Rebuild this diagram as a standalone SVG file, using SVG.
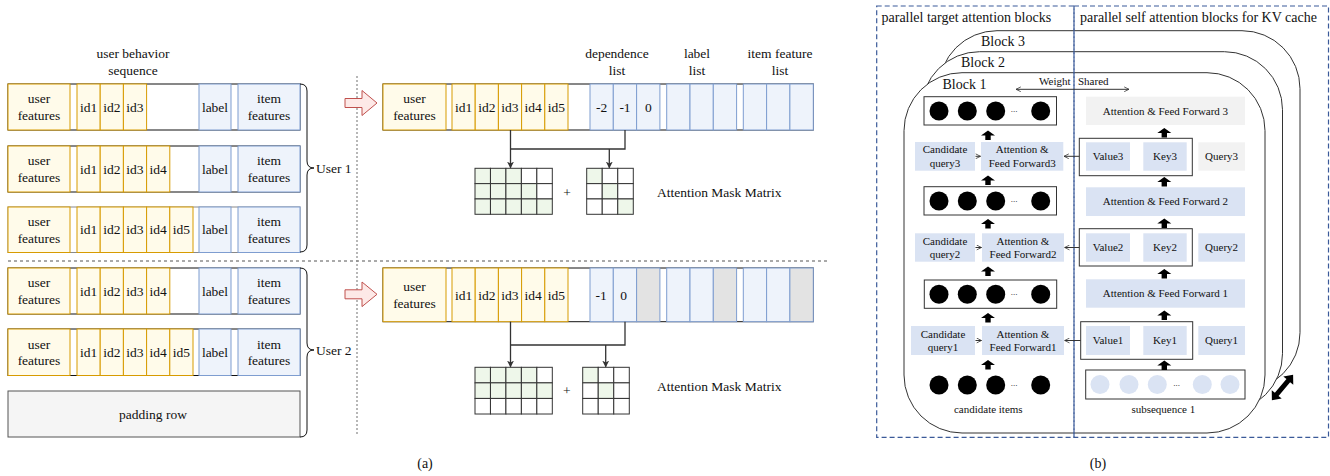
<svg xmlns="http://www.w3.org/2000/svg" xmlns:xlink="http://www.w3.org/1999/xlink" width="1330" height="476" viewBox="0 0 1330 476">
<style>
text{font-family:"Liberation Serif","Times New Roman",serif;font-size:13.5px;fill:#111;text-anchor:middle}
.s{font-size:11px}
.l{font-size:14px}
.st{text-anchor:start}
.en{text-anchor:end}
.dots{font-size:9px}
.row{fill:#fff;stroke:#111;stroke-width:1}
.row3{fill:#fff;stroke:#888;stroke-width:1}
.y{fill:#fffbea;stroke:#d79b00;stroke-width:1}
.b{fill:#eef3fb;stroke:#7e9dd0;stroke-width:1}
.g{fill:#e3e3e3;stroke:#7e9dd0;stroke-width:1}
.pad{fill:#f5f5f5;stroke:#555;stroke-width:1}
.m{fill:#fff;stroke:#333;stroke-width:1}
.mg{fill:#eef7ea;stroke:#333;stroke-width:1}
.lb{fill:#dae3f3}
.lg{fill:#f2f2f2}
.box{fill:#fff;stroke:#333;stroke-width:1}
.blk{fill:#fff;stroke:#333;stroke-width:1}
.dash{fill:none;stroke:#3b5a99;stroke-width:1.2;stroke-dasharray:5 3}
.conn{fill:none;stroke:#333;stroke-width:1.3}
.thin{fill:none;stroke:#333;stroke-width:1}
.red{fill:#fde9e7;stroke:#c0504d;stroke-width:1}
.brace{fill:none;stroke:#111;stroke-width:1}
.sep{fill:none;stroke:#555;stroke-width:1;stroke-dasharray:3 3}
.vsep{fill:none;stroke:#888;stroke-width:1.2;stroke-dasharray:2 2}
.cb{fill:#000}
.cl{fill:#dae3f3}
</style>
<defs>
<marker id="fa" viewBox="0 0 10 10" refX="9" refY="5" markerWidth="7" markerHeight="7" markerUnits="userSpaceOnUse" orient="auto">
<path d="M0,0 L10,5 L0,10 L3,5 Z" fill="#333"/>
</marker>
<marker id="oa" viewBox="0 0 10 10" refX="9" refY="5" markerWidth="6" markerHeight="6" markerUnits="userSpaceOnUse" orient="auto-start-reverse">
<path d="M1,1 L9,5 L1,9" fill="none" stroke="#333" stroke-width="1.3"/>
</marker>
<path id="up" d="M0,0 L7,5 L2.7,5 L2.7,9.5 L-2.7,9.5 L-2.7,5 L-7,5 Z" fill="#000"/>
</defs>

<!-- Panel (a) headings -->
<g id="heading-seq"><text x="133" y="57.5">user behavior</text><text x="133" y="74.5">sequence</text></g>
<g id="heading-dep"><text x="617" y="57.5">dependence</text><text x="617" y="74.5">list</text></g>
<g id="heading-label"><text x="697" y="57.5">label</text><text x="697" y="74.5">list</text></g>
<g id="heading-item"><text x="780" y="57.5">item feature</text><text x="780" y="74.5">list</text></g>

<!-- Left rows -->
<g id="row1">
<rect class="row" x="8" y="84" width="292" height="46"/>
<rect class="y" x="8" y="84" width="62" height="46"/>
<rect class="y" x="77" y="84" width="23.2" height="46"/><rect class="y" x="100.2" y="84" width="23.2" height="46"/><rect class="y" x="123.4" y="84" width="23.2" height="46"/>
<rect class="b" x="199" y="84" width="32" height="46"/><rect class="b" x="238" y="84" width="62" height="46"/>
<text x="39" y="103.3">user</text><text x="39" y="119.8">features</text>
<text x="88.6" y="111.5">id1</text><text x="111.8" y="111.5">id2</text><text x="135" y="111.5">id3</text>
<text x="215" y="111.5">label</text>
<text x="269" y="103.3">item</text><text x="269" y="119.8">features</text>
</g>
<g id="row2">
<rect class="row" x="8" y="146" width="292" height="46"/>
<rect class="y" x="8" y="146" width="62" height="46"/>
<rect class="y" x="77" y="146" width="23.2" height="46"/><rect class="y" x="100.2" y="146" width="23.2" height="46"/><rect class="y" x="123.4" y="146" width="23.2" height="46"/><rect class="y" x="146.6" y="146" width="23.2" height="46"/>
<rect class="b" x="199" y="146" width="32" height="46"/><rect class="b" x="238" y="146" width="62" height="46"/>
<text x="39" y="165.3">user</text><text x="39" y="181.8">features</text>
<text x="88.6" y="173.5">id1</text><text x="111.8" y="173.5">id2</text><text x="135" y="173.5">id3</text><text x="158.2" y="173.5">id4</text>
<text x="215" y="173.5">label</text>
<text x="269" y="165.3">item</text><text x="269" y="181.8">features</text>
</g>
<g id="row3">
<rect class="row3" x="8" y="207" width="292" height="45.5"/>
<rect class="y" x="8" y="207" width="62" height="45.5"/>
<rect class="y" x="77" y="207" width="23.2" height="45.5"/><rect class="y" x="100.2" y="207" width="23.2" height="45.5"/><rect class="y" x="123.4" y="207" width="23.2" height="45.5"/><rect class="y" x="146.6" y="207" width="23.2" height="45.5"/><rect class="y" x="169.8" y="207" width="23.2" height="45.5"/>
<rect class="b" x="199" y="207" width="32" height="45.5"/><rect class="b" x="238" y="207" width="62" height="45.5"/>
<text x="39" y="226">user</text><text x="39" y="242.5">features</text>
<text x="88.6" y="234.2">id1</text><text x="111.8" y="234.2">id2</text><text x="135" y="234.2">id3</text><text x="158.2" y="234.2">id4</text><text x="181.4" y="234.2">id5</text>
<text x="215" y="234.2">label</text>
<text x="269" y="226">item</text><text x="269" y="242.5">features</text>
</g>
<g id="row4">
<rect class="row" x="8" y="268" width="292" height="46"/>
<rect class="y" x="8" y="268" width="62" height="46"/>
<rect class="y" x="77" y="268" width="23.2" height="46"/><rect class="y" x="100.2" y="268" width="23.2" height="46"/><rect class="y" x="123.4" y="268" width="23.2" height="46"/><rect class="y" x="146.6" y="268" width="23.2" height="46"/>
<rect class="b" x="199" y="268" width="32" height="46"/><rect class="b" x="238" y="268" width="62" height="46"/>
<text x="39" y="287.3">user</text><text x="39" y="303.8">features</text>
<text x="88.6" y="295.5">id1</text><text x="111.8" y="295.5">id2</text><text x="135" y="295.5">id3</text><text x="158.2" y="295.5">id4</text>
<text x="215" y="295.5">label</text>
<text x="269" y="287.3">item</text><text x="269" y="303.8">features</text>
</g>
<g id="row5">
<rect class="row" x="8" y="329" width="292" height="46.5"/>
<rect class="y" x="8" y="329" width="62" height="46.5"/>
<rect class="y" x="77" y="329" width="23.2" height="46.5"/><rect class="y" x="100.2" y="329" width="23.2" height="46.5"/><rect class="y" x="123.4" y="329" width="23.2" height="46.5"/><rect class="y" x="146.6" y="329" width="23.2" height="46.5"/><rect class="y" x="169.8" y="329" width="23.2" height="46.5"/>
<rect class="b" x="199" y="329" width="32" height="46.5"/><rect class="b" x="238" y="329" width="62" height="46.5"/>
<text x="39" y="348.5">user</text><text x="39" y="365">features</text>
<text x="88.6" y="356.7">id1</text><text x="111.8" y="356.7">id2</text><text x="135" y="356.7">id3</text><text x="158.2" y="356.7">id4</text><text x="181.4" y="356.7">id5</text>
<text x="215" y="356.7">label</text>
<text x="269" y="348.5">item</text><text x="269" y="365">features</text>
</g>
<g id="padding-row">
<rect class="pad" x="8" y="391" width="292" height="46"/>
<text x="153" y="418.5">padding row</text>
</g>
<g id="user1-brace">
<path class="brace" d="M300,84 Q307,84 307,91 V161 Q307,168 314,168 Q307,168 307,175 V245 Q307,252 300,252"/>
<text class="st" x="316" y="172.5">User 1</text>
</g>
<g id="user2-brace">
<path class="brace" d="M300,268 Q307,268 307,275 V343 Q307,350 314,350 Q307,350 307,357 V430 Q307,437 300,437"/>
<text class="st" x="316" y="354.5">User 2</text>
</g>

<!-- separators -->
<g id="separators">
<path class="sep" d="M8,261 H830"/>
<path class="vsep" d="M357,76 V436"/>
</g>

<g id="red-arrow-1"><polygon class="red" points="345,98.5 362,98.5 362,90.5 377,103 362,115.5 362,107.5 345,107.5"/></g>
<g id="red-arrow-2"><polygon class="red" points="345,289.8 362,289.8 362,282 377,294.3 362,306.6 362,298.8 345,298.8"/></g>

<!-- Middle rows -->
<g id="merged-row-user1">
<rect class="row" x="383" y="84" width="430.3" height="46"/>
<rect class="y" x="383" y="84" width="63" height="46"/>
<rect class="y" x="452" y="84" width="23.2" height="46"/><rect class="y" x="475.2" y="84" width="23.2" height="46"/><rect class="y" x="498.4" y="84" width="23.2" height="46"/><rect class="y" x="521.6" y="84" width="23.2" height="46"/><rect class="y" x="544.8" y="84" width="23.2" height="46"/>
<rect class="b" x="590" y="84" width="23.3" height="46"/><rect class="b" x="613.3" y="84" width="23.3" height="46"/><rect class="b" x="636.6" y="84" width="23.3" height="46"/>
<rect class="b" x="666.7" y="84" width="23.3" height="46"/><rect class="b" x="690" y="84" width="23.3" height="46"/><rect class="b" x="713.3" y="84" width="23.3" height="46"/>
<rect class="b" x="743.3" y="84" width="23.3" height="46"/><rect class="b" x="766.6" y="84" width="23.3" height="46"/><rect class="b" x="789.9" y="84" width="23.4" height="46"/>
<text x="414.5" y="103.3">user</text><text x="414.5" y="119.8">features</text>
<text x="463.6" y="111.5">id1</text><text x="486.8" y="111.5">id2</text><text x="510" y="111.5">id3</text><text x="533.2" y="111.5">id4</text><text x="556.4" y="111.5">id5</text>
<text x="601.7" y="111.5">-2</text><text x="625" y="111.5">-1</text><text x="648.3" y="111.5">0</text>
</g>
<g id="merged-row-user2">
<rect class="row" x="383" y="268" width="430.3" height="53.7"/>
<rect class="y" x="383" y="268" width="63" height="53.7"/>
<rect class="y" x="452" y="268" width="23.2" height="53.7"/><rect class="y" x="475.2" y="268" width="23.2" height="53.7"/><rect class="y" x="498.4" y="268" width="23.2" height="53.7"/><rect class="y" x="521.6" y="268" width="23.2" height="53.7"/><rect class="y" x="544.8" y="268" width="23.2" height="53.7"/>
<rect class="b" x="590" y="268" width="23.3" height="53.7"/><rect class="b" x="613.3" y="268" width="23.3" height="53.7"/><rect class="g" x="636.6" y="268" width="23.3" height="53.7"/>
<rect class="b" x="666.7" y="268" width="23.3" height="53.7"/><rect class="b" x="690" y="268" width="23.3" height="53.7"/><rect class="g" x="713.3" y="268" width="23.3" height="53.7"/>
<rect class="b" x="743.3" y="268" width="23.3" height="53.7"/><rect class="b" x="766.6" y="268" width="23.3" height="53.7"/><rect class="g" x="789.9" y="268" width="23.4" height="53.7"/>
<text x="414.5" y="291">user</text><text x="414.5" y="307.5">features</text>
<text x="463.6" y="299.5">id1</text><text x="486.8" y="299.5">id2</text><text x="510" y="299.5">id3</text><text x="533.2" y="299.5">id4</text><text x="556.4" y="299.5">id5</text>
<text x="601.2" y="299.5">-1</text><text x="623.5" y="299.5">0</text>
</g>

<!-- Matrices user1 -->
<g id="mask-user1-seq">
<rect class="mg" x="475" y="168.3" width="15.46" height="15.33"/><rect class="mg" x="490.46" y="168.3" width="15.46" height="15.33"/><rect class="mg" x="505.92" y="168.3" width="15.46" height="15.33"/><rect class="m" x="521.38" y="168.3" width="15.46" height="15.33"/><rect class="m" x="536.84" y="168.3" width="15.46" height="15.33"/>
<rect class="mg" x="475" y="183.63" width="15.46" height="15.33"/><rect class="mg" x="490.46" y="183.63" width="15.46" height="15.33"/><rect class="mg" x="505.92" y="183.63" width="15.46" height="15.33"/><rect class="mg" x="521.38" y="183.63" width="15.46" height="15.33"/><rect class="m" x="536.84" y="183.63" width="15.46" height="15.33"/>
<rect class="mg" x="475" y="198.96" width="15.46" height="15.33"/><rect class="mg" x="490.46" y="198.96" width="15.46" height="15.33"/><rect class="mg" x="505.92" y="198.96" width="15.46" height="15.33"/><rect class="mg" x="521.38" y="198.96" width="15.46" height="15.33"/><rect class="mg" x="536.84" y="198.96" width="15.46" height="15.33"/>
</g>
<g id="plus-1"><text x="567" y="196.5">+</text></g>
<g id="mask-user1-dep">
<rect class="mg" x="586.7" y="168.3" width="15.53" height="15.33"/><rect class="m" x="602.23" y="168.3" width="15.53" height="15.33"/><rect class="m" x="617.76" y="168.3" width="15.53" height="15.33"/>
<rect class="m" x="586.7" y="183.63" width="15.53" height="15.33"/><rect class="mg" x="602.23" y="183.63" width="15.53" height="15.33"/><rect class="m" x="617.76" y="183.63" width="15.53" height="15.33"/>
<rect class="m" x="586.7" y="198.96" width="15.53" height="15.33"/><rect class="m" x="602.23" y="198.96" width="15.53" height="15.33"/><rect class="mg" x="617.76" y="198.96" width="15.53" height="15.33"/>
</g>
<g id="mask-label-1"><text class="st" x="657" y="196.5">Attention Mask Matrix</text></g>

<!-- Matrices user2 -->
<g id="mask-user2-seq">
<rect class="mg" x="475" y="367.3" width="15.46" height="15.57"/><rect class="mg" x="490.46" y="367.3" width="15.46" height="15.57"/><rect class="mg" x="505.92" y="367.3" width="15.46" height="15.57"/><rect class="mg" x="521.38" y="367.3" width="15.46" height="15.57"/><rect class="m" x="536.84" y="367.3" width="15.46" height="15.57"/>
<rect class="mg" x="475" y="382.87" width="15.46" height="15.57"/><rect class="mg" x="490.46" y="382.87" width="15.46" height="15.57"/><rect class="mg" x="505.92" y="382.87" width="15.46" height="15.57"/><rect class="mg" x="521.38" y="382.87" width="15.46" height="15.57"/><rect class="mg" x="536.84" y="382.87" width="15.46" height="15.57"/>
<rect class="m" x="475" y="398.44" width="15.46" height="15.57"/><rect class="m" x="490.46" y="398.44" width="15.46" height="15.57"/><rect class="m" x="505.92" y="398.44" width="15.46" height="15.57"/><rect class="m" x="521.38" y="398.44" width="15.46" height="15.57"/><rect class="m" x="536.84" y="398.44" width="15.46" height="15.57"/>
</g>
<g id="plus-2"><text x="566.7" y="394.5">+</text></g>
<g id="mask-user2-dep">
<rect class="mg" x="582.7" y="367.3" width="15.53" height="15.57"/><rect class="m" x="598.23" y="367.3" width="15.53" height="15.57"/><rect class="m" x="613.76" y="367.3" width="15.53" height="15.57"/>
<rect class="m" x="582.7" y="382.87" width="15.53" height="15.57"/><rect class="mg" x="598.23" y="382.87" width="15.53" height="15.57"/><rect class="m" x="613.76" y="382.87" width="15.53" height="15.57"/>
<rect class="m" x="582.7" y="398.44" width="15.53" height="15.57"/><rect class="m" x="598.23" y="398.44" width="15.53" height="15.57"/><rect class="m" x="613.76" y="398.44" width="15.53" height="15.57"/>
</g>
<g id="mask-label-2"><text class="st" x="657" y="391.2">Attention Mask Matrix</text></g>

<g id="caption-a"><text class="l" x="425" y="468">(a)</text></g>

<!-- Panel (b) blocks -->
<g id="block3"><rect class="blk" x="939" y="30.7" width="361" height="360" rx="58" ry="58"/><text class="l st" x="981" y="45.5">Block 3</text></g>
<g id="block2"><rect class="blk" x="921.5" y="51.7" width="361" height="360" rx="58" ry="58"/><text class="l st" x="961" y="66.5">Block 2</text></g>
<g id="block1"><rect class="blk" x="904" y="72.7" width="361" height="360.3" rx="58" ry="58"/><text class="l st" x="942.5" y="89">Block 1</text></g>

<g id="weight-shared"><text class="s en" x="1070.5" y="84.5">Weight</text><text class="s st" x="1078" y="84.5">Shared</text></g>

<!-- target attention column -->
<g id="out-items-3">
<rect class="box" x="924" y="96.7" width="132.5" height="28.3"/>
<circle class="cb" cx="939" cy="111" r="9.5"/><circle class="cb" cx="967.3" cy="111" r="9.5"/><circle class="cb" cx="995.7" cy="111" r="9.5"/><text class="dots" x="1014" y="112">...</text><circle class="cb" cx="1040.7" cy="111" r="9.5"/>
</g>
<g id="cand-query3"><rect class="lb" x="915" y="142" width="60" height="28.7"/><text class="s" x="945" y="153.4">Candidate</text><text class="s" x="945" y="166.7">query3</text></g>
<g id="attn-ff3-target"><rect class="lb" x="981" y="142" width="82.3" height="28.7"/><text class="s" x="1022.2" y="153.4">Attention &amp;</text><text class="s" x="1022.2" y="166.7">Feed Forward3</text></g>
<g id="out-items-2">
<rect class="box" x="924" y="186.7" width="132.5" height="28.3"/>
<circle class="cb" cx="939" cy="201" r="9.5"/><circle class="cb" cx="967.3" cy="201" r="9.5"/><circle class="cb" cx="995.7" cy="201" r="9.5"/><text class="dots" x="1014" y="202">...</text><circle class="cb" cx="1040.7" cy="201" r="9.5"/>
</g>
<g id="cand-query2"><rect class="lb" x="915" y="233.3" width="60" height="28.4"/><text class="s" x="945" y="244.6">Candidate</text><text class="s" x="945" y="257.9">query2</text></g>
<g id="attn-ff2-target"><rect class="lb" x="982" y="233.3" width="82" height="28.4"/><text class="s" x="1023" y="244.6">Attention &amp;</text><text class="s" x="1023" y="257.9">Feed Forward2</text></g>
<g id="out-items-1">
<rect class="box" x="924.3" y="280" width="132.4" height="28.3"/>
<circle class="cb" cx="939" cy="294.3" r="9.5"/><circle class="cb" cx="967.3" cy="294.3" r="9.5"/><circle class="cb" cx="995.7" cy="294.3" r="9.5"/><text class="dots" x="1014" y="295.3">...</text><circle class="cb" cx="1040.7" cy="294.3" r="9.5"/>
</g>
<g id="cand-query1"><rect class="lb" x="911" y="326" width="64" height="29"/><text class="s" x="943" y="337.5">Candidate</text><text class="s" x="943" y="350.8">query1</text></g>
<g id="attn-ff1-target"><rect class="lb" x="982" y="326" width="82" height="29"/><text class="s" x="1023" y="337.5">Attention &amp;</text><text class="s" x="1023" y="350.8">Feed Forward1</text></g>
<g id="candidate-items">
<circle class="cb" cx="939" cy="385" r="9.5"/><circle class="cb" cx="967.3" cy="385" r="9.5"/><circle class="cb" cx="995.7" cy="385" r="9.5"/><text class="dots" x="1014" y="386">...</text><circle class="cb" cx="1040.7" cy="385" r="9.5"/>
<text class="s" x="988.3" y="412.7">candidate items</text>
</g>

<!-- self attention column -->
<g id="attn-ff3-self"><rect class="lg" x="1086" y="96.7" width="159" height="28.3"/><text class="s" x="1165.5" y="114.5">Attention &amp; Feed Forward 3</text></g>
<g id="kv3">
<rect class="box" x="1079.3" y="138.3" width="113" height="37.4"/>
<rect class="lb" x="1086" y="142.3" width="44" height="28.4"/><text class="s" x="1108" y="160.2">Value3</text>
<rect class="lb" x="1143.3" y="142.3" width="43.4" height="28.4"/><text class="s" x="1165" y="160.2">Key3</text>
</g>
<g id="query3"><rect class="lg" x="1198.3" y="142.3" width="46.7" height="28.4"/><text class="s" x="1221.6" y="160.2">Query3</text></g>
<g id="attn-ff2-self"><rect class="lb" x="1086" y="187.3" width="159" height="28.7"/><text class="s" x="1165.5" y="205.3">Attention &amp; Feed Forward 2</text></g>
<g id="kv2">
<rect class="box" x="1079.3" y="228.7" width="113" height="37.3"/>
<rect class="lb" x="1086" y="233.3" width="44" height="28.4"/><text class="s" x="1108" y="251.2">Value2</text>
<rect class="lb" x="1143.3" y="233.3" width="43.4" height="28.4"/><text class="s" x="1165" y="251.2">Key2</text>
</g>
<g id="query2"><rect class="lb" x="1198.3" y="233.3" width="46.7" height="28.4"/><text class="s" x="1221.6" y="251.2">Query2</text></g>
<g id="attn-ff1-self"><rect class="lb" x="1086" y="279.3" width="159" height="28.4"/><text class="s" x="1165.5" y="297.2">Attention &amp; Feed Forward 1</text></g>
<g id="kv1">
<rect class="box" x="1080.7" y="321.7" width="112" height="37.6"/>
<rect class="lb" x="1086" y="326" width="44" height="29"/><text class="s" x="1108" y="344.2">Value1</text>
<rect class="lb" x="1143.3" y="326" width="43.4" height="29"/><text class="s" x="1165" y="344.2">Key1</text>
</g>
<g id="query1"><rect class="lb" x="1198.3" y="326" width="46.7" height="29"/><text class="s" x="1221.6" y="344.2">Query1</text></g>
<g id="subsequence-1">
<rect class="box" x="1085.7" y="370" width="159.3" height="29"/>
<circle class="cl" cx="1100" cy="384.5" r="9.5"/><circle class="cl" cx="1129" cy="384.5" r="9.5"/><circle class="cl" cx="1157.3" cy="384.5" r="9.5"/><text class="dots" x="1176.7" y="385.5">...</text><circle class="cl" cx="1202.3" cy="384.5" r="9.5"/><circle class="cl" cx="1230" cy="384.5" r="9.5"/>
<text class="s" x="1163.3" y="412.7">subsequence 1</text>
</g>

<g id="block-stack-arrow"><polygon fill="#000" transform="translate(1282.5,387.5) rotate(-50)" points="-16.5,0 -9,-6.5 -9,-2.4 9,-2.4 9,-6.5 16.5,0 9,6.5 9,2.4 -9,2.4 -9,6.5"/></g>

<!-- dashed panels -->
<g id="panel-target"><rect class="dash" x="876.7" y="6" width="197.3" height="431.3"/><text class="l st" x="881.5" y="22">parallel target attention blocks</text></g>
<g id="panel-self"><rect class="dash" x="1074" y="6" width="254.5" height="431.3"/><text class="l st" x="1080" y="22">parallel self attention blocks for KV cache</text></g>

<g id="caption-b"><text class="l" x="1098" y="468">(b)</text></g>

<!-- connectors -->
<g id="connectors">
<path class="conn" d="M625,130 V149 H510.5"/>
<path class="conn" d="M510.5,130 V167.8" marker-end="url(#fa)"/>
<path class="conn" d="M609.3,149 V167.8" marker-end="url(#fa)"/>
<path class="conn" d="M625,321.7 V345 H510.5"/>
<path class="conn" d="M510.5,321.7 V366.8" marker-end="url(#fa)"/>
<path class="conn" d="M605.7,345 V366.8" marker-end="url(#fa)"/>
<path class="thin" d="M1016,89.3 H1129" marker-start="url(#oa)" marker-end="url(#oa)"/>
<path class="thin" d="M975.5,156.3 H980.5" marker-end="url(#oa)"/>
<path class="thin" d="M975.5,247.5 H981.5" marker-end="url(#oa)"/>
<path class="thin" d="M975.5,340.5 H981.5" marker-end="url(#oa)"/>
<path class="thin" d="M1079.3,156.3 H1064" marker-end="url(#oa)"/>
<path class="thin" d="M1079.3,247.5 H1064.7" marker-end="url(#oa)"/>
<path class="thin" d="M1080.7,340.5 H1064.7" marker-end="url(#oa)"/>
<use xlink:href="#up" x="988" y="130.5"/>
<use xlink:href="#up" x="988" y="175.5"/>
<use xlink:href="#up" x="988" y="219"/>
<use xlink:href="#up" x="988" y="266.5"/>
<use xlink:href="#up" x="988" y="313"/>
<use xlink:href="#up" x="988" y="360"/>
<use xlink:href="#up" x="1164.3" y="128"/>
<use xlink:href="#up" x="1164.3" y="177"/>
<use xlink:href="#up" x="1164.3" y="218.5"/>
<use xlink:href="#up" x="1164.3" y="269"/>
<use xlink:href="#up" x="1164.3" y="310.5"/>
<use xlink:href="#up" x="1164.3" y="360.5"/>
</g>
</svg>
